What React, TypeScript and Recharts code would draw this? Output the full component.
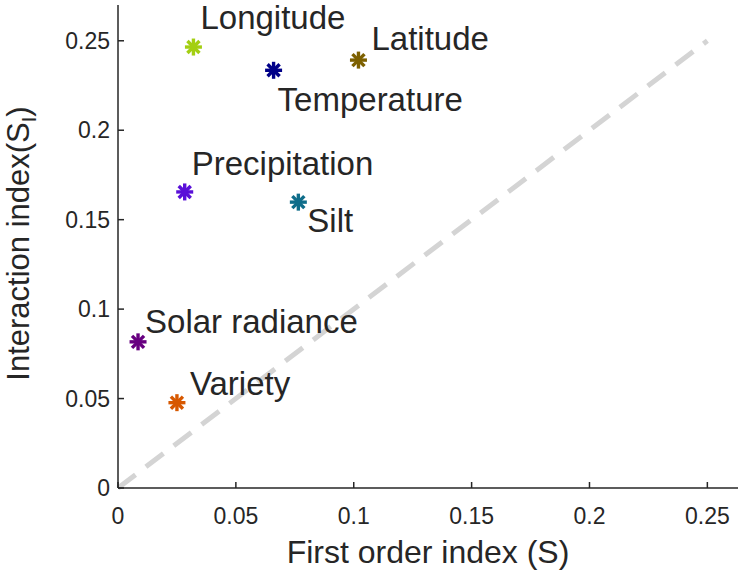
import React from "react";
import {
  ScatterChart,
  Scatter,
  XAxis,
  YAxis,
  ReferenceLine,
  LabelList,
} from "recharts";

const names = [
  "Longitude",
  "Temperature",
  "Latitude",
  "Precipitation",
  "Silt",
  "Solar radiance",
  "Variety",
];
const firstOrder = [0.032, 0.066, 0.102, 0.0283, 0.0765, 0.0085, 0.025];
const interaction = [0.2465, 0.2335, 0.2392, 0.1655, 0.1598, 0.0817, 0.0477];
const colors = [
  "#a3cf12",
  "#000088",
  "#7d6000",
  "#5a10d8",
  "#0f6d8a",
  "#680080",
  "#d75800",
];
const xTicks = [0, 0.05, 0.1, 0.15, 0.2, 0.25];
const yTicks = [0, 0.05, 0.1, 0.15, 0.2, 0.25];
const diagonal = [0, 0.25];

// label offsets from the marker (dx to text start, dy to baseline)
const labelOffsets: Record<string, [number, number]> = {
  Longitude: [7, -18],
  Temperature: [4, 41],
  Latitude: [13, -10],
  Precipitation: [7, -17],
  Silt: [9, 30],
  "Solar radiance": [7, -9],
  Variety: [13, -8],
};

const FONT = "'Liberation Sans', Arial, Helvetica, sans-serif";
const AXIS = "#262626";
const TEXT = "#262626";

const points = names.map((name, i) => ({
  name,
  x: firstOrder[i],
  y: interaction[i],
  color: colors[i],
}));

function Asterisk(props: any) {
  const { cx, cy, payload } = props;
  const r = 8.5;
  const d = r * Math.SQRT1_2;
  const c = payload.color;
  return (
    <g stroke={c} strokeWidth={3.4} strokeLinecap="butt">
      <line x1={cx - r} y1={cy} x2={cx + r} y2={cy} />
      <line x1={cx} y1={cy - r} x2={cx} y2={cy + r} />
      <line x1={cx - d} y1={cy - d} x2={cx + d} y2={cy + d} />
      <line x1={cx - d} y1={cy + d} x2={cx + d} y2={cy - d} />
    </g>
  );
}

function PointLabel(props: any) {
  const { x, y, width, height, value } = props;
  const cx = x + width / 2;
  const cy = y + height / 2;
  const [dx, dy] = labelOffsets[value] ?? [8, -10];
  return (
    <text
      x={cx + dx}
      y={cy + dy}
      fontSize={33}
      fontFamily={FONT}
      fill={TEXT}
    >
      {value}
    </text>
  );
}

function XTick(props: any) {
  const { x, y, payload } = props;
  return (
    <g>
      <line x1={x} y1={y} x2={x} y2={y - 6} stroke={AXIS} strokeWidth={1.5} />
      <text
        x={x}
        y={y + 36}
        textAnchor="middle"
        fontSize={23}
        fontFamily={FONT}
        fill={TEXT}
      >
        {payload.value}
      </text>
    </g>
  );
}

function YTick(props: any) {
  const { x, y, payload } = props;
  return (
    <g>
      <line x1={x} y1={y} x2={x + 6} y2={y} stroke={AXIS} strokeWidth={1.5} />
      <text
        x={x - 8}
        y={y + 8}
        textAnchor="end"
        fontSize={23}
        fontFamily={FONT}
        fill={TEXT}
      >
        {payload.value}
      </text>
    </g>
  );
}

export default function App() {
  return (
    <div style={{ position: "absolute", left: 0, top: 0, background: "#fff" }}>
      <ScatterChart
        width={740}
        height={574}
        margin={{ top: 5, right: 2, bottom: 0, left: 0 }}
      >
        <XAxis
          type="number"
          dataKey="x"
          domain={[0, 0.263]}
          ticks={xTicks}
          allowDataOverflow
          height={86}
          tickSize={0}
          tickMargin={0}
          tickLine={false}
          axisLine={{ stroke: AXIS, strokeWidth: 1.5 }}
          tick={<XTick />}
          label={(p: any) => {
            const vb = p.viewBox;
            return (
              <text
                x={vb.x + vb.width / 2}
                y={563}
                textAnchor="middle"
                fontSize={32}
                fontFamily={FONT}
                fill={TEXT}
              >
                First order index (S)
              </text>
            );
          }}
        />
        <YAxis
          type="number"
          dataKey="y"
          domain={[0, 0.27]}
          ticks={yTicks}
          allowDataOverflow
          width={118}
          tickSize={0}
          tickMargin={0}
          tickLine={false}
          axisLine={{ stroke: AXIS, strokeWidth: 1.5 }}
          tick={<YTick />}
          label={(p: any) => {
            const vb = p.viewBox;
            const cx = 29;
            const cy = vb.y + vb.height / 2 - 3;
            return (
              <text
                x={cx}
                y={cy}
                transform={`rotate(-90 ${cx} ${cy})`}
                textAnchor="middle"
                fontSize={31}
                fontFamily={FONT}
                fill={TEXT}
              >
                Interaction index(S
                <tspan fontSize={20} dy={7}>
                  I
                </tspan>
                <tspan dy={-7}>)</tspan>
              </text>
            );
          }}
        />
        <ReferenceLine
          segment={[
            { x: diagonal[0], y: diagonal[0] },
            { x: diagonal[1], y: diagonal[1] },
          ]}
          stroke="#d4d4d4"
          strokeWidth={5}
          strokeDasharray="22 13"
          ifOverflow="visible"
        />
        <Scatter
          data={points}
          shape={<Asterisk />}
          isAnimationActive={false}
        >
          <LabelList dataKey="name" content={<PointLabel />} />
        </Scatter>
      </ScatterChart>
    </div>
  );
}
